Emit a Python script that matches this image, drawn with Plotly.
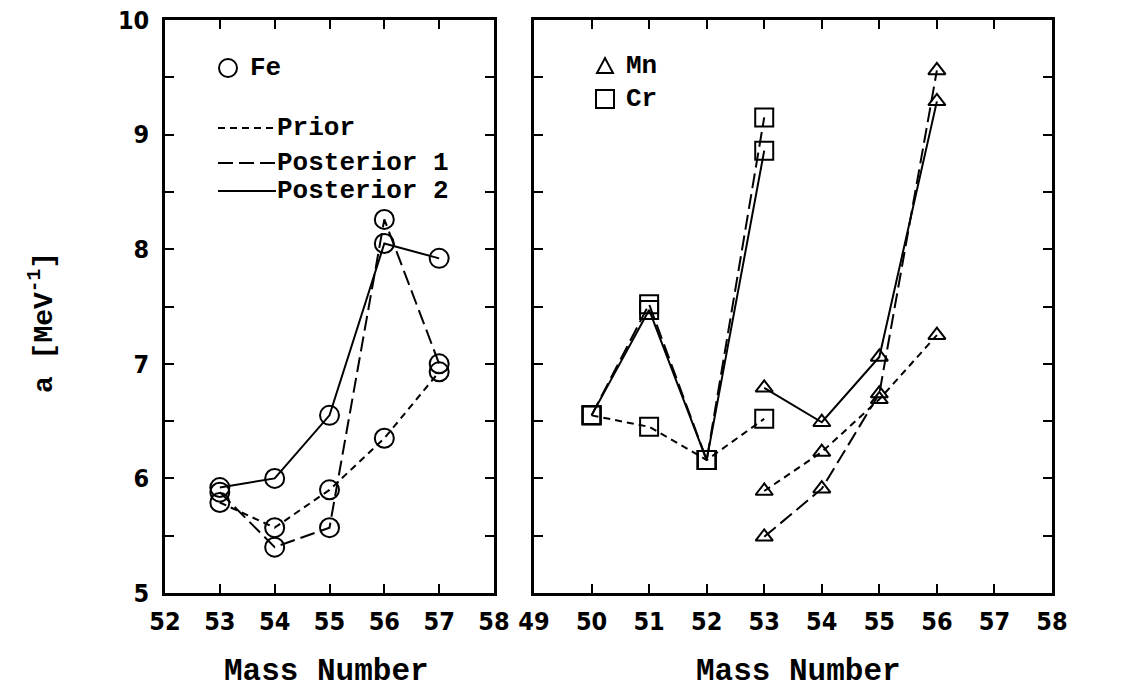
import plotly.graph_objects as go

# ---------------- data ----------------
fe_mass = [53, 54, 55, 56, 57]
fe_prior = [5.79, 5.57, 5.90, 6.35, 6.93]
fe_post1 = [5.88, 5.40, 5.57, 8.26, 7.00]
fe_post2 = [5.92, 6.00, 6.55, 8.05, 7.92]

cr_mass = [50, 51, 52, 53]
cr_prior = [6.55, 6.45, 6.16, 6.52]
cr_post1 = [6.55, 7.52, 6.16, 9.15]
cr_post2 = [6.55, 7.47, 6.16, 8.86]

mn_mass = [53, 54, 55, 56]
mn_prior = [5.89, 6.23, 6.69, 7.25]
mn_post1 = [5.49, 5.91, 6.74, 9.56]
mn_post2 = [6.79, 6.49, 7.06, 9.29]

y_ticks = [5, 6, 7, 8, 9, 10]
left_x_ticks = [52, 53, 54, 55, 56, 57, 58]
right_x_ticks = [49, 50, 51, 52, 53, 54, 55, 56, 57, 58]

# ---------------- styles ----------------
W, H = 1143, 690
DASH = {"prior": "7px,5px", "post1": "15px,6px", "post2": "solid"}
TICKFONT = dict(family="DejaVu Sans Condensed, Liberation Sans Narrow, Arial Narrow, sans-serif",
                size=25, color="black", weight="bold")
MONO = "Liberation Mono, Courier New, DejaVu Sans Mono, monospace"

def px(x):
    return x / W

def py(y):
    return 1 - y / H

fig = go.Figure()

def add_series(xs, ys, dash, symbol, size, xaxis, yaxis):
    fig.add_trace(go.Scatter(
        x=xs, y=ys, mode="lines+markers",
        line=dict(color="black", width=2, dash=dash),
        marker=dict(symbol=symbol, size=size, color="black", line=dict(width=2, color="black")),
        xaxis=xaxis, yaxis=yaxis, showlegend=False, hoverinfo="x+y"))

# left panel: Fe
add_series(fe_mass, fe_prior, DASH["prior"], "circle-open", 19, "x", "y")
add_series(fe_mass, fe_post1, DASH["post1"], "circle-open", 19, "x", "y")
add_series(fe_mass, fe_post2, DASH["post2"], "circle-open", 19, "x", "y")

# right panel: Cr and Mn
add_series(cr_mass, cr_prior, DASH["prior"], "square-open", 18, "x2", "y2")
add_series(cr_mass, cr_post1, DASH["post1"], "square-open", 18, "x2", "y2")
add_series(cr_mass, cr_post2, DASH["post2"], "square-open", 18, "x2", "y2")
add_series(mn_mass, mn_prior, DASH["prior"], "triangle-up-open", 15, "x2", "y2")
add_series(mn_mass, mn_post1, DASH["post1"], "triangle-up-open", 15, "x2", "y2")
add_series(mn_mass, mn_post2, DASH["post2"], "triangle-up-open", 15, "x2", "y2")

axis_common = dict(
    showgrid=False, zeroline=False, showline=True, linecolor="black", linewidth=2.5,
    mirror="ticks", ticks="inside", ticklen=9, tickwidth=2, tickcolor="black",
    tickfont=TICKFONT, automargin=False,
)

ydom = [py(593), py(20)]
fig.update_layout(
    width=W, height=H,
    margin=dict(l=0, r=0, t=0, b=0),
    paper_bgcolor="white", plot_bgcolor="white",
    xaxis=dict(domain=[px(165), px(494)], range=[52, 58], tickvals=left_x_ticks,
               anchor="y", ticklabelstandoff=4, **axis_common),
    yaxis=dict(domain=ydom, range=[5, 10], tickvals=y_ticks, anchor="x",
               ticklabelstandoff=8,
               minor=dict(dtick=0.5, ticks="inside", ticklen=9, tickwidth=2, tickcolor="black"),
               **axis_common),
    xaxis2=dict(domain=[px(534), px(1052)], range=[49, 58], tickvals=right_x_ticks,
                anchor="y2", ticklabelstandoff=4, **axis_common),
    yaxis2=dict(domain=ydom, range=[5, 10], tickvals=y_ticks, anchor="x2",
                showticklabels=False,
                minor=dict(dtick=0.5, ticks="inside", ticklen=9, tickwidth=2, tickcolor="black"),
                **axis_common),
)

annotations = []
shapes = []

# axis titles
annotations.append(dict(text="<b>Mass Number</b>", x=px(326), y=py(671), xref="paper", yref="paper",
                        xanchor="center", yanchor="middle", showarrow=False,
                        font=dict(family=MONO, size=31, color="black")))
annotations.append(dict(text="<b>Mass Number</b>", x=px(798), y=py(671), xref="paper", yref="paper",
                        xanchor="center", yanchor="middle", showarrow=False,
                        font=dict(family=MONO, size=31, color="black")))
annotations.append(dict(text="<b>a [MeV<sup>-1</sup>]</b>", x=px(42), y=py(323), xref="paper", yref="paper",
                        xanchor="center", yanchor="middle", showarrow=False, textangle=-90,
                        font=dict(family=MONO, size=28, color="black")))

# left legend
shapes.append(dict(type="circle", xref="paper", yref="paper", xsizemode="pixel", ysizemode="pixel",
                   xanchor=px(228), yanchor=py(68), x0=-9, x1=9, y0=-9, y1=9,
                   line=dict(color="black", width=2)))
annotations.append(dict(text="<b>Fe</b>", x=px(248), y=py(68), xref="paper", yref="paper",
                        xanchor="left", yanchor="middle", showarrow=False,
                        font=dict(family=MONO, size=26, color="black")))
for label, dash, yy in [("Prior", "prior", 128), ("Posterior 1", "post1", 163), ("Posterior 2", "post2", 191)]:
    shapes.append(dict(type="line", xref="paper", yref="paper", x0=px(218), x1=px(276),
                       y0=py(yy), y1=py(yy), line=dict(color="black", width=2, dash=DASH[dash])))
    annotations.append(dict(text="<b>" + label + "</b>", x=px(275), y=py(yy), xref="paper", yref="paper",
                            xanchor="left", yanchor="middle", showarrow=False,
                            font=dict(family=MONO, size=26, color="black")))

# right legend
shapes.append(dict(type="path", xref="paper", yref="paper", xsizemode="pixel", ysizemode="pixel",
                   xanchor=px(605), yanchor=py(66), path="M -8,-7 L 8,-7 L 0,8 Z",
                   line=dict(color="black", width=2)))
annotations.append(dict(text="<b>Mn</b>", x=px(624), y=py(66), xref="paper", yref="paper",
                        xanchor="left", yanchor="middle", showarrow=False,
                        font=dict(family=MONO, size=26, color="black")))
shapes.append(dict(type="rect", xref="paper", yref="paper", xsizemode="pixel", ysizemode="pixel",
                   xanchor=px(605), yanchor=py(99), x0=-9, x1=9, y0=-9, y1=9,
                   line=dict(color="black", width=2)))
annotations.append(dict(text="<b>Cr</b>", x=px(624), y=py(99), xref="paper", yref="paper",
                        xanchor="left", yanchor="middle", showarrow=False,
                        font=dict(family=MONO, size=26, color="black")))

fig.update_layout(annotations=annotations, shapes=shapes)

fig.write_html("out.html")
